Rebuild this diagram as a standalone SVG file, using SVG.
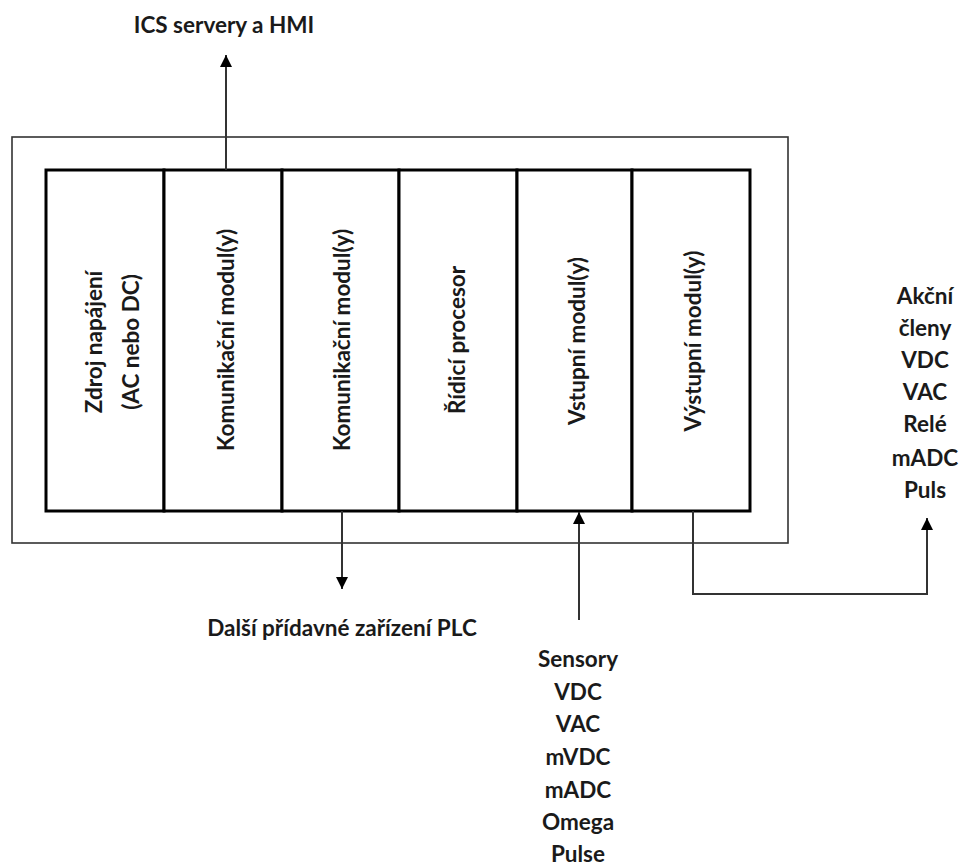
<svg xmlns="http://www.w3.org/2000/svg" width="963" height="868" viewBox="0 0 963 868">
<defs>
<style>
text{font-family:Lato,"Open Sans","Liberation Sans",sans-serif;font-weight:700;font-size:22.5px;fill:#1a1a1a;text-anchor:middle}
.outer{fill:none;stroke:#333;stroke-width:1.6}
.mod{fill:#fff;stroke:#000;stroke-width:3}
.conn{fill:none;stroke:#333;stroke-width:2}
</style>
<marker id="ah" viewBox="0 0 10 10" refX="10" refY="5" markerWidth="12" markerHeight="12" markerUnits="userSpaceOnUse" orient="auto">
<path d="M0,0 L10,5 L0,10 z" fill="#000"/>
</marker>
</defs>
<rect width="963" height="868" fill="#fff"/>
<g id="plc-frame"><rect class="outer" x="12" y="137" width="776" height="406"/></g>
<g id="m1"><rect class="mod" x="46" y="170" width="118" height="341"/>
<text transform="translate(102,342) rotate(-90)">Zdroj napájení</text>
<text transform="translate(139,342) rotate(-90)">(AC nebo DC)</text></g>
<g id="m2"><rect class="mod" x="164" y="170" width="118" height="341"/>
<text transform="translate(234,340) rotate(-90)">Komunikační modul(y)</text></g>
<g id="m3"><rect class="mod" x="282" y="170" width="117" height="341"/>
<text transform="translate(350,340) rotate(-90)">Komunikační modul(y)</text></g>
<g id="m4"><rect class="mod" x="399" y="170" width="118" height="341"/>
<text transform="translate(465,340) rotate(-90)">Řídicí procesor</text></g>
<g id="m5"><rect class="mod" x="517" y="170" width="115" height="341"/>
<text transform="translate(585,341) rotate(-90)">Vstupní modul(y)</text></g>
<g id="m6"><rect class="mod" x="632" y="170" width="118" height="341"/>
<text transform="translate(701,341) rotate(-90)">Výstupní modul(y)</text></g>
<g id="connectors">
<path class="conn" d="M226,170 V55" marker-end="url(#ah)"/>
<path class="conn" d="M342,511 V589" marker-end="url(#ah)"/>
<path class="conn" d="M579,620 V512" marker-end="url(#ah)"/>
<path class="conn" d="M693,511 V594 H927 V518" marker-end="url(#ah)"/>
</g>
<g id="lbl-ics"><text x="224" y="33">ICS servery a HMI</text></g>
<g id="lbl-dalsi"><text x="342" y="636">Další přídavné zařízení PLC</text></g>
<g id="lbl-sensory">
<text x="578" y="667">Sensory</text>
<text x="578" y="700">VDC</text>
<text x="578" y="732">VAC</text>
<text x="578" y="765">mVDC</text>
<text x="578" y="798">mADC</text>
<text x="578" y="830">Omega</text>
<text x="578" y="862">Pulse</text>
</g>
<g id="lbl-akcni">
<text x="925" y="304">Akční</text>
<text x="925" y="336">členy</text>
<text x="925" y="368">VDC</text>
<text x="925" y="400">VAC</text>
<text x="925" y="432">Relé</text>
<text x="925" y="466">mADC</text>
<text x="925" y="498">Puls</text>
</g>
</svg>
